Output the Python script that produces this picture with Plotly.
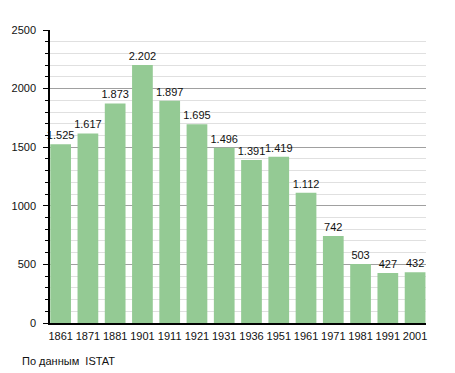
import plotly.graph_objects as go

years = ["1861", "1871", "1881", "1901", "1911", "1921", "1931", "1936",
         "1951", "1961", "1971", "1981", "1991", "2001"]
population = [1525, 1617, 1873, 2202, 1897, 1695, 1496, 1391,
              1419, 1112, 742, 503, 427, 432]
source_note = "По данным  ISTAT"

labels = [f"{v:,}".replace(",", ".") for v in population]

# page body has an 8px default margin, so the figure is drawn 8px in
OFF = 8
W, H = 455 - OFF, 373 - OFF
L, R, T, B = 50 - OFF, 29, 30 - OFF, 50
pw, ph = W - L - R, H - T - B

fig = go.Figure(go.Bar(
    x=list(range(len(years))),
    y=population,
    text=labels,
    textposition="outside",
    constraintext="none",
    textfont=dict(family="Liberation Sans, Arial, sans-serif", size=11, color="#111"),
    cliponaxis=False,
    marker=dict(color="#94ca94", line=dict(width=0)),
    width=0.76,
    hoverinfo="skip",
))

fig.update_layout(
    width=W, height=H,
    margin=dict(l=L, r=R, t=T, b=B, pad=0, autoexpand=False),
    paper_bgcolor="white", plot_bgcolor="white",
    showlegend=False,
    font=dict(family="Liberation Sans, Arial, sans-serif", size=11, color="#111"),
    bargap=0.24,
)

fig.update_xaxes(
    range=[-0.39, 13.4],
    automargin=False,
    tickmode="array",
    tickvals=list(range(len(years))),
    ticktext=years,
    showgrid=False, zeroline=False,
    showline=True, linecolor="black", linewidth=1.5,
    ticks="", ticklabelstandoff=2,
    tickfont=dict(size=11),
)

fig.update_yaxes(
    range=[0, 2500],
    automargin=False,
    tick0=0, dtick=500,
    showgrid=True, gridcolor="#a0a0a0", gridwidth=1,
    zeroline=False,
    showline=True, linecolor="black", linewidth=1.5,
    ticks="outside", ticklen=5, tickcolor="black", tickwidth=1,
    ticklabelstandoff=5,
    tickfont=dict(size=11),
    minor=dict(dtick=100, tick0=0, ticks="outside", ticklen=3,
               tickcolor="black", tickwidth=1,
               showgrid=True, gridcolor="#e0e0e0", gridwidth=1),
)

fig.add_annotation(
    text=source_note, xref="paper", yref="paper",
    x=(20 - 50) / pw, y=(323 - 361) / ph,
    xanchor="left", yanchor="middle", showarrow=False,
    font=dict(size=11, color="#111"),
)

fig.write_html("out.html")
